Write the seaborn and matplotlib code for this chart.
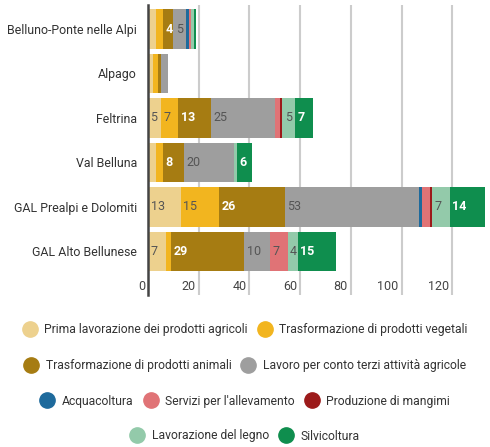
import matplotlib
matplotlib.use("Agg")
import matplotlib.pyplot as plt
import matplotlib.transforms as mtransforms
from matplotlib.lines import Line2D
import numpy as np
import pandas as pd
import seaborn as sns

categories = ["Belluno-Ponte nelle Alpi", "Alpago", "Feltrina", "Val Belluna",
              "GAL Prealpi e Dolomiti", "GAL Alto Bellunese"]
series_names = ["Prima lavorazione dei prodotti agricoli",
                "Trasformazione di prodotti vegetali",
                "Trasformazione di prodotti animali",
                "Lavoro per conto terzi attività agricole",
                "Acquacoltura",
                "Servizi per l'allevamento",
                "Produzione di mangimi",
                "Lavorazione del legno",
                "Silvicoltura"]
prima = [3, 2, 5, 3, 13, 7]
vegetali = [3, 2, 7, 3, 15, 2]
animali = [4, 1, 13, 8, 26, 29]
contoterzi = [5, 3, 25, 20, 53, 10]
acquacoltura = [1, 0, 0, 0, 1, 0]
allevamento = [1, 0, 2, 0, 3, 7]
mangimi = [0, 0, 1, 0, 1, 0]
legno = [1, 0, 5, 1, 7, 4]
silvicoltura = [1, 0, 7, 6, 14, 15]
series_values = [prima, vegetali, animali, contoterzi, acquacoltura,
                 allevamento, mangimi, legno, silvicoltura]
colors = ["#EDD18E", "#F2B51F", "#A67C12", "#9E9E9E", "#1E6A9C",
          "#E07376", "#9C1A1A", "#93CAAA", "#0F8E4E"]
label_colors = ["#555555", "#555555", "white", "#555555", "white",
                "#555555", "white", "#555555", "white"]
label_weights = ["normal", "normal", "bold", "normal", "bold",
                 "normal", "bold", "normal", "bold"]
xticks = [0, 20, 40, 60, 80, 100, 120]

sns.set_style("white")
plt.rcParams["font.family"] = ["Roboto", "DejaVu Sans"]

W, H = 490, 447
fig = plt.figure(figsize=(W / 100, H / 100), dpi=100)
ax_left, ax_right, ax_top, ax_bot = 148, 488, 5, 295
ax = fig.add_axes([ax_left / W, 1 - ax_bot / H, (ax_right - ax_left) / W, (ax_bot - ax_top) / H])

vals = np.array(series_values, dtype=float)
cum = np.cumsum(vals, axis=0)

for i in reversed(range(len(series_names))):
    df = pd.DataFrame({"cat": categories, "val": cum[i]})
    sns.barplot(data=df, x="val", y="cat", order=categories, orient="h",
                color=colors[i], saturation=1, width=0.88, linewidth=0, ax=ax)

ax.set_xlim(0, 134)
ax.set_ylim(5.98, -0.54)

# grid lines
for t in xticks[1:]:
    ax.axvline(t, color="#cccccc", lw=1.5, zorder=0)
ax.set_axisbelow(True)

# segment labels
offset = mtransforms.offset_copy(ax.transData, fig=fig, x=2.5, y=0, units="dots")
for i in range(len(series_names)):
    for j, cat in enumerate(categories):
        v = vals[i, j]
        if v >= 4:
            start = cum[i, j] - v
            ax.text(start, j, f"{int(v)}", transform=offset, ha="left", va="center",
                    fontsize=9, color=label_colors[i], fontweight=label_weights[i])

ax.set_xlabel("")
ax.set_ylabel("")
ax.set_xticks([])
ax.tick_params(axis="y", length=0, pad=8, labelsize=8.9, labelcolor="#333333")

# x tick labels placed left of gridlines
tick_tr = mtransforms.blended_transform_factory(ax.transData, ax.transAxes)
tick_tr = tick_tr + mtransforms.ScaledTranslation(-3 / 100, 0, fig.dpi_scale_trans)
for t in xticks:
    ax.text(t, (ax_bot - 287) / (ax_bot - ax_top), str(t), transform=tick_tr,
            ha="right", va="center", fontsize=9, color="#444444")

for s in ["top", "right", "bottom"]:
    ax.spines[s].set_visible(False)
ax.spines["left"].set_color("#444444")
ax.spines["left"].set_linewidth(1.8)
ax.spines["left"].set_zorder(5)

# legend rows
rows = [[0, 1], [2, 3], [4, 5, 6], [7, 8]]
row_y = [330, 366, 401, 436]
for r, y in zip(rows, row_y):
    handles = [Line2D([0], [0], marker="o", linestyle="", markersize=11,
                      markerfacecolor=colors[k], markeredgecolor=colors[k]) for k in r]
    labels = [series_names[k] for k in r]
    fig.legend(handles, labels, loc="center", bbox_to_anchor=(0.5, 1 - y / H),
               ncol=len(r), frameon=False, fontsize=8.7, handletextpad=0.6,
               columnspacing=0.8, labelcolor="#333333", borderpad=0, handlelength=1.2)

fig.savefig("out.png", dpi=100)
